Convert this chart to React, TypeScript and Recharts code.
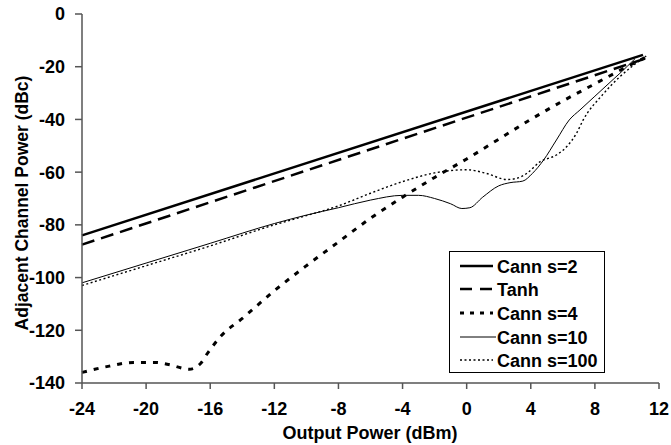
import React from 'react';
import { LineChart, Line, XAxis, YAxis, Legend, Label } from 'recharts';

const xTicks = [-24, -20, -16, -12, -8, -4, 0, 4, 8, 12];
const yTicks = [0, -20, -40, -60, -80, -100, -120, -140];

const cann2X = [-24, 11.0];
const cann2Y = [-84, -15.5];

const tanhX = [-24, 11.2];
const tanhY = [-87.5, -16.8];

const cann4X = [-24, -22.3, -20.8, -19.4, -18.6, -17.3, -16.6, -16.2, -15.3, -14, -12, -10, -8, -6, -4, -2, 0, 2, 4, 6, 8, 10, 11.3];
const cann4Y = [-136, -133.6, -132.2, -132.2, -133, -134.8, -132.6, -129, -122, -115.5, -105, -95.5, -86.5, -77.5, -69.5, -62, -55, -47.5, -40, -33, -26.5, -20, -16];

const cann10X = [-24, -20, -16, -12, -10, -8, -6, -4, -3, -2, -1, -0.3, 0.2, 1, 2, 2.7, 3.5, 4.1, 4.8, 5.6, 6.4, 7.07, 8, 9.2, 9.56, 10.5];
const cann10Y = [-102, -94.5, -87, -79.5, -76.3, -73.5, -70.6, -68.8, -68.8, -70, -72, -73.8, -73.5, -69.5, -65.2, -64, -63.4, -60.5, -55.4, -47.8, -40.2, -36.4, -31.2, -24.5, -22.5, -17];

const cann100X = [-24, -20, -16, -12, -10, -8, -6, -4, -2, -1, 0, 1.25, 2.5, 3.1, 3.74, 4.57, 5.6, 6.23, 6.85, 7.27, 8.5, 9.56, 10.4, 11.2];
const cann100Y = [-103, -95.5, -88, -80, -76.5, -72.8, -68, -63.6, -60.3, -59.4, -59.1, -60.5, -62.8, -62.4, -60.5, -56.1, -53.5, -50.4, -45.3, -40.2, -30.5, -23.8, -19.5, -16];

const seriesNames = ['Cann s=2', 'Tanh', 'Cann s=4', 'Cann s=10', 'Cann s=100'];

const zip = (xs: number[], ys: number[]) => xs.map((x, i) => ({ x, y: ys[i] }));

const FONT = '"Liberation Sans", Arial, sans-serif';

const styles = [
  { width: 2.5, dash: undefined as string | undefined },
  { width: 2.5, dash: '13 7' },
  { width: 3, dash: '5 7' },
  { width: 1, dash: undefined },
  { width: 1.4, dash: '2 2.5' },
];

const legendDash = ['', '12 8', '4 6', '', '2 2.5'];

const LegendBox = () => {
  const rowY = [15, 38, 62, 86, 109];
  return (
    <svg width={157} height={123} style={{ display: 'block' }}>
      <rect x={0.5} y={0.5} width={155} height={121} fill="#fff" stroke="#000" strokeWidth={1} />
      {seriesNames.map((n, i) => (
        <g key={n}>
          <line x1={11} x2={i === 3 ? 47 : 44} y1={rowY[i]} y2={rowY[i]} stroke="#000" strokeWidth={styles[i].width} strokeDasharray={legendDash[i] || undefined} />
          <text x={48} y={rowY[i] + 6.5} fontFamily={FONT} fontWeight="bold" fontSize={18} fill="#000">{n}</text>
        </g>
      ))}
    </svg>
  );
};

export default function App() {
  const data = [
    zip(cann2X, cann2Y),
    zip(tanhX, tanhY),
    zip(cann4X, cann4Y),
    zip(cann10X, cann10Y),
    zip(cann100X, cann100Y),
  ];
  const tickStyle = { fontFamily: FONT, fontWeight: 'bold' as const, fontSize: 18, fill: '#000' };
  return (
    <div style={{ position: 'absolute', left: 0, top: 0, width: 671, height: 445, background: '#fff' }}>
      <LineChart width={671} height={445} margin={{ top: 14, right: 12, left: 0, bottom: 0 }}>
        <XAxis
          dataKey="x"
          type="number"
          domain={[-24, 12]}
          ticks={xTicks}
          allowDuplicatedCategory={false}
          height={62}
          tickSize={6}
          tickMargin={13}
          tick={tickStyle}
          axisLine={{ stroke: '#555', strokeWidth: 1.5 }}
          tickLine={{ stroke: '#555', strokeWidth: 1.5 }}
        >
          <Label
            content={() => (
              <text x={370} y={439} textAnchor="middle" fontFamily={FONT} fontWeight="bold" fontSize={18} fill="#000">
                Output Power (dBm)
              </text>
            )}
          />
        </XAxis>
        <YAxis
          dataKey="y"
          type="number"
          domain={[-140, 0]}
          ticks={yTicks}
          width={82}
          tickSize={7}
          tickMargin={10}
          tick={tickStyle}
          axisLine={{ stroke: '#555', strokeWidth: 1.5 }}
          tickLine={{ stroke: '#555', strokeWidth: 1.5 }}
        >
          <Label
            content={() => (
              <text x={22} y={203} transform="rotate(-90 22 203)" textAnchor="middle" dominantBaseline="central" fontFamily={FONT} fontWeight="bold" fontSize={17.5} fill="#000">
                Adjacent Channel Power (dBc)
              </text>
            )}
          />
        </YAxis>
        <Legend
          layout="horizontal"
          verticalAlign="middle"
          align="center"
          wrapperStyle={{ position: 'absolute', left: 449, top: 251, width: 157, height: 123 }}
          content={() => <LegendBox />}
        />
        {data.map((d, i) => (
          <Line
            key={seriesNames[i]}
            data={d}
            dataKey="y"
            name={seriesNames[i]}
            type={i < 2 ? 'linear' : 'monotone'}
            stroke="#000"
            strokeWidth={styles[i].width}
            strokeDasharray={styles[i].dash}
            dot={false}
            activeDot={false}
            isAnimationActive={false}
          />
        ))}
      </LineChart>
    </div>
  );
}
